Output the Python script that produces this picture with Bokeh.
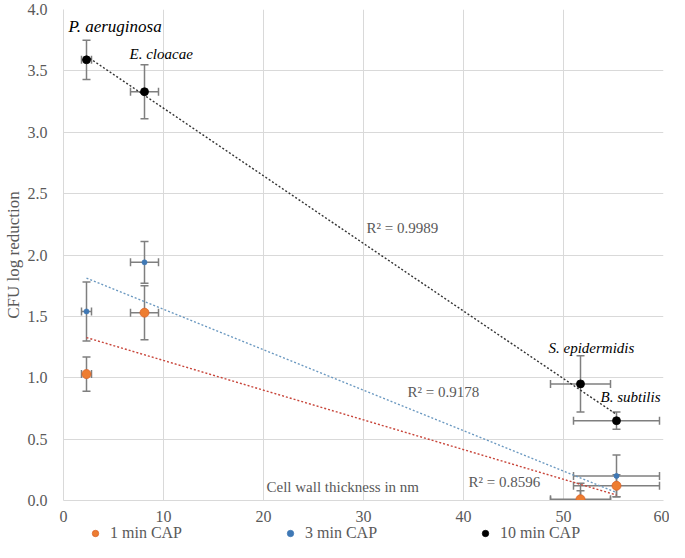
import numpy as np
from bokeh.plotting import figure
from bokeh.layouts import column
from bokeh.models import (ColumnDataSource, Whisker, TeeHead, Legend, LegendItem,
                          SingleIntervalTicker, NumeralTickFormatter, Range1d)
from bokeh.core.properties import value
from bokeh.embed import file_html
from bokeh.resources import INLINE

# ---- data ----
species = ["P. aeruginosa", "E. cloacae", "S. epidermidis", "B. subtilis"]
wall_nm = [2.3, 8.1, 51.7, 55.3]
wall_err = [0.5, 1.4, 3.0, 4.3]

cap1 = [1.03, 1.53, 0.01, 0.12]
cap1_err = [0.14, 0.22, 0.13, 0.09]
cap3 = [1.54, 1.94, 0.0, 0.20]
cap3_err = [0.24, 0.17, 0.08, 0.17]
cap10 = [3.59, 3.33, 0.95, 0.65]
cap10_err = [0.16, 0.22, 0.23, 0.07]

series_names = ["1 min CAP", "3 min CAP", "10 min CAP"]
r2_labels = ["R\u00b2 = 0.8596", "R\u00b2 = 0.9178", "R\u00b2 = 0.9989"]
x_title = "Cell wall thickness  in nm"
y_title = "CFU log reduction"

# ---- label placement (data coordinates) and sizes ----
species_lx = [0.5, 6.6, 48.5, 53.7]
species_ly = [3.86, 3.64, 1.24, 0.84]
species_fs = ["17px", "15px", "15px", "15px"]
r2_lx = [40.5, 34.4, 30.3]
r2_ly = [0.15, 0.88, 2.22]

FONT = "'Liberation Serif'"
GRAY = "#595959"
GRID = "#d9d9d9"
ERR = "#7f7f7f"

marker_colors = ["#ED7D31", "#3F78B5", "#000000"]
marker_lines = ["#D9622A", "#3F78B5", "#000000"]
marker_sizes = [9, 5, 8]
trend_colors = ["#C8453A", "#6A98C0", "#333333"]

p = figure(width=669, height=524, output_backend="svg", toolbar_location=None,
           x_range=Range1d(0, 60), y_range=Range1d(0, 4.0),
           min_border_top=9, min_border_right=6, min_border_bottom=22, min_border_left=10)
p.outline_line_color = None
p.background_fill_color = "white"

for ax in (p.xaxis[0], p.yaxis[0]):
    ax.axis_line_color = GRID
    ax.major_tick_line_color = None
    ax.minor_tick_line_color = None
    ax.major_label_text_font = FONT
    ax.major_label_text_font_size = "16px"
    ax.major_label_text_color = GRAY

p.xaxis.ticker = SingleIntervalTicker(interval=10)
p.yaxis.ticker = SingleIntervalTicker(interval=0.5)
p.yaxis.formatter = NumeralTickFormatter(format="0.0")
p.xaxis.major_label_standoff = 4
p.yaxis.major_label_standoff = 10
p.yaxis.axis_label = y_title
p.yaxis.axis_label_text_font = FONT
p.yaxis.axis_label_text_font_style = "normal"
p.yaxis.axis_label_text_font_size = "17px"
p.yaxis.axis_label_text_color = GRAY
p.yaxis.axis_label_standoff = 2

p.xgrid.grid_line_color = GRID
p.ygrid.grid_line_color = GRID

all_y = [cap1, cap3, cap10]
all_e = [cap1_err, cap3_err, cap10_err]

# error bars
for ys, es in zip(all_y, all_e):
    ya = np.array(ys); ea = np.array(es); xa = np.array(wall_nm); xe = np.array(wall_err)
    src = ColumnDataSource(dict(x=xa, y=ya, lo=ya - ea, hi=ya + ea, xlo=xa - xe, xhi=xa + xe))
    wy = Whisker(source=src, base="x", lower="lo", upper="hi", dimension="height",
                 line_color=ERR, line_width=1.5,
                 upper_head=TeeHead(size=8, line_color=ERR, line_width=1.5),
                 lower_head=TeeHead(size=8, line_color=ERR, line_width=1.5))
    wx = Whisker(source=src, base="y", lower="xlo", upper="xhi", dimension="width",
                 line_color=ERR, line_width=1.5,
                 upper_head=TeeHead(size=8, line_color=ERR, line_width=1.5),
                 lower_head=TeeHead(size=8, line_color=ERR, line_width=1.5))
    p.add_layout(wy)
    p.add_layout(wx)

# trendlines (least squares)
xa = np.array(wall_nm)
for ys, c in zip(all_y, trend_colors):
    k, b = np.polyfit(xa, np.array(ys), 1)
    xt = np.array([xa.min(), xa.max()])
    p.line(xt, k * xt + b, line_color=c, line_width=1.4, line_dash="2 2")

# markers (blue first so orange sits on top at S. epidermidis)
for idx in [1, 0, 2]:
    p.scatter(wall_nm, all_y[idx], size=marker_sizes[idx], fill_color=marker_colors[idx],
              line_color=marker_lines[idx], line_width=0.8)

# species labels
sp_src = ColumnDataSource(dict(x=species_lx, y=species_ly, t=species, fs=species_fs))
p.text("x", "y", text="t", text_font_size="fs", source=sp_src, text_font=value(FONT),
       text_font_style="italic", text_color="#000000", text_baseline="middle", text_align="left")
# R^2 labels
p.text(r2_lx, r2_ly, text=r2_labels, text_font=value(FONT), text_font_size="15px",
       text_color=GRAY, text_baseline="middle", text_align="left")
# x title inside plot
p.text([20.3], [0.11], text=[x_title], text_font=value(FONT), text_font_size="15px",
       text_color=GRAY, text_baseline="middle", text_align="left")

# ---- legend strip (series drawn outside its visible range, only the legend shows) ----
lg = figure(width=669, height=18, output_backend="svg", toolbar_location=None,
            x_range=Range1d(0, 1), y_range=Range1d(0, 1),
            x_axis_location=None, y_axis_location=None, min_border=0)
lg.outline_line_color = None
lg.grid.visible = False
leg_renderers = []
for idx in range(3):
    r = lg.scatter(wall_nm, all_y[idx], size=marker_sizes[idx], fill_color=marker_colors[idx],
                   line_color=marker_lines[idx], line_width=0.8)
    leg_renderers.append(r)

legend = Legend(items=[LegendItem(label=series_names[i], renderers=[leg_renderers[i]]) for i in range(3)],
                orientation="horizontal", location=(22, 0), spacing=98,
                glyph_width=20, glyph_height=16, label_standoff=5,
                label_text_font=FONT, label_text_font_size="16px", label_text_color=GRAY,
                label_height=16, padding=1, margin=0,
                border_line_color=None, background_fill_alpha=0)
lg.add_layout(legend, "center")

layout = column(p, lg, spacing=0)
open("out.html", "w").write(file_html(layout, INLINE))
